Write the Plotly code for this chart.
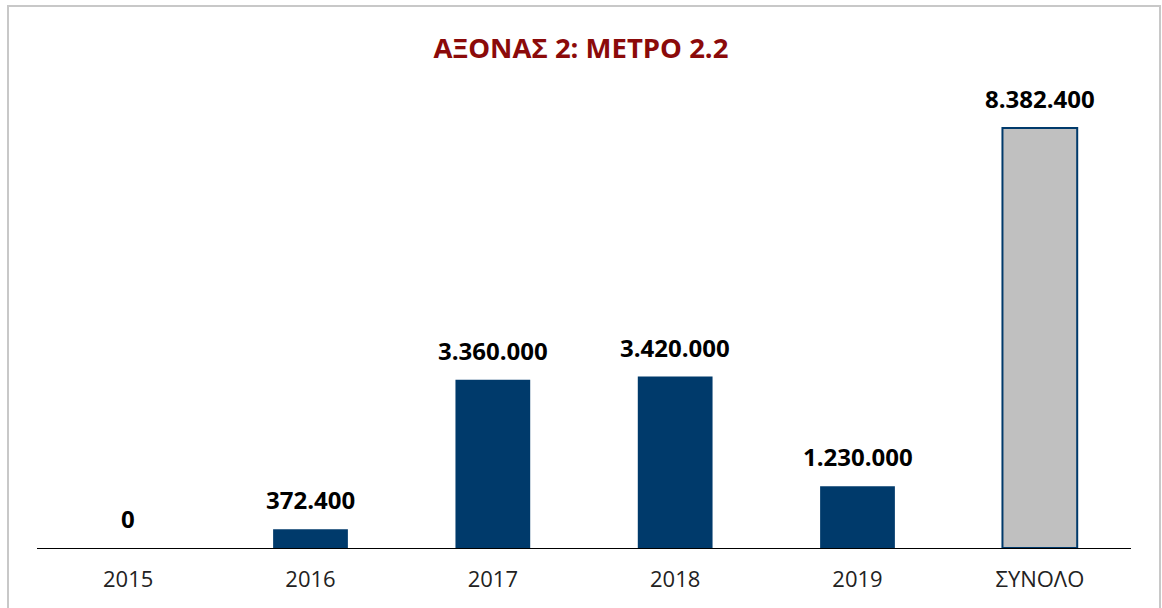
import plotly.graph_objects as go

categories = ["2015", "2016", "2017", "2018", "2019", "ΣΥΝΟΛΟ"]
values = [0, 372400, 3360000, 3420000, 1230000, 8382400]
bar_colors = ["#003A6B", "#003A6B", "#003A6B", "#003A6B", "#003A6B", "#C0C0C0"]
bar_line_widths = [0, 0, 0, 0, 0, 2]
title_text = "ΑΞΟΝΑΣ 2: ΜΕΤΡΟ 2.2"

fig = go.Figure()
fig.add_trace(go.Bar(
    x=categories,
    y=values,
    marker=dict(color=bar_colors, line=dict(color="#003A6B", width=bar_line_widths)),
    hoverinfo="x+y",
))

for i, v in enumerate(values):
    fig.add_annotation(
        x=i, y=v, xref="x", yref="y", text=f"{v:,}".replace(",", "."),
        showarrow=False, yanchor="bottom", yshift=11,
        font=dict(family="Open Sans", size=24, color="#000000", weight="bold"),
    )

fig.update_layout(
    width=1162, height=608,
    margin=dict(l=37, r=31, t=97, b=60),
    paper_bgcolor="white", plot_bgcolor="white",
    showlegend=False,
    bargap=0.59,
    title=dict(text=title_text, x=0.5, xanchor="center", y=1 - 48 / 608, yanchor="middle",
               font=dict(family="Open Sans", size=27.5, color="#8B0A0A", weight="bold")),
    xaxis=dict(type="category", categoryorder="array", categoryarray=categories,
               range=[-0.5, 5.5], showline=True, linecolor="#000000", linewidth=1, ticks="",
               tickfont=dict(family="Open Sans", size=22, color="#222222"),
               ticklabelstandoff=12, showgrid=False, zeroline=False, automargin=False),
    yaxis=dict(visible=False, range=[0, 9000000], showgrid=False, zeroline=False),
    shapes=[dict(type="rect", xref="paper", yref="paper", x0=-29 / 1094, x1=1123 / 1094,
                 y0=-0.2, y1=(548 - 6) / 451, line=dict(color="#C8C8C8", width=2),
                 fillcolor="rgba(0,0,0,0)", layer="below")],
)

fig.write_html("out.html", config={"displayModeBar": False},
               post_script="document.body.style.margin='0';document.body.style.overflow='hidden';")
